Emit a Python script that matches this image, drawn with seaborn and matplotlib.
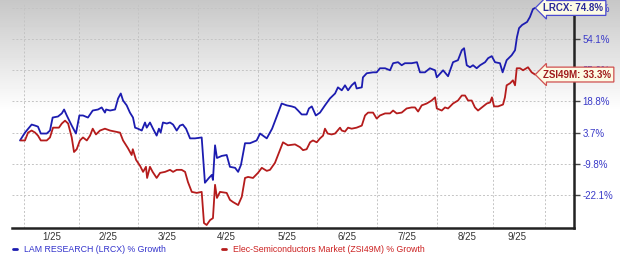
import numpy as np
import pandas as pd
import matplotlib
matplotlib.use("Agg")
import matplotlib.pyplot as plt
import seaborn as sns
from matplotlib.lines import Line2D

# ---------------- data (days since 2024-12-31, % growth) ----------------
lrcx_day = [-2.1, 0.5, 4.0, 5.8, 7.3, 8.8, 11.9, 13.6, 15.0, 17.8, 19.8, 21.0, 22.4, 25.0, 27.2,
            29.0, 30.9, 33.5, 36.0, 38.8, 40.7, 42.4, 43.0, 45.1, 47.7, 49.3, 50.7, 51.9, 53.8,
            55.5, 57.1, 58.2, 59.7, 61.7, 63.4, 64.3, 66.0, 67.6, 69.5, 70.7, 71.6, 72.8, 74.8,
            76.5, 78.1, 80.0, 81.7, 83.2, 84.9, 87.0, 89.6, 93.1, 94.8, 96.9, 98.4, 99.0, 100.1,
            101.1, 103.6, 106.2, 107.9, 110.6, 112.2, 113.7, 115.8, 118.4, 121.9, 123.7, 125.2,
            127.2, 128.9, 130.0, 132.4, 135.0, 137.7, 140.3, 142.0, 143.6, 145.5, 148.1, 149.3,
            150.8, 152.0, 152.9, 155.1, 157.7, 160.3, 163.0, 164.5, 166.5, 168.2, 169.8, 171.7,
            173.4, 174.3, 177.0, 177.6, 179.6, 182.9, 184.8, 186.5, 189.2, 191.8, 193.4, 196.0,
            197.9, 199.6, 203.1, 205.9, 207.5, 210.1, 212.7, 215.4, 216.3, 219.6, 222.2, 224.8,
            227.4, 229.4, 230.6, 232.0, 233.7, 235.3, 237.2, 239.0, 241.6, 243.2, 245.1, 246.8,
            249.4, 250.8, 252.9, 255.5, 257.3, 258.3, 259.4, 261.0, 263.6, 265.1, 266.7, 267.8]
lrcx_pct = [0.3, 3.7, 7.6, 7.1, 6.6, 3.3, 3.3, 4.7, 11.0, 11.5, 13.0, 14.9, 12.0, 7.1, 3.3,
            12.0, 12.0, 11.0, 14.4, 14.9, 15.9, 13.4, 14.9, 14.4, 14.9, 20.4, 23.1, 19.3, 16.9,
            13.4, 11.0, 6.1, 5.6, 4.7, 8.6, 6.1, 8.6, 5.6, 2.4, 5.6, 3.7, 8.6, 8.1,
            8.6, 7.6, 4.7, 7.1, 7.6, 5.6, 1.2, 1.2, 1.6, -17.3, -15.4, -14.2, -16.2, -1.8,
            -7.3, -6.4, -6.0, -11.0, -11.4, -13.0, -10.2, -0.9, -0.9, 0.3, 3.3, 2.4,
            1.2, 3.7, 5.6, 11.5, 17.8, 16.9, 16.4, 15.9, 14.4, 12.5, 12.5, 15.4,
            16.4, 13.9, 12.0, 13.4, 16.9, 20.4, 23.1, 26.4, 24.8, 27.5, 24.8, 27.5,
            29.1, 25.8, 26.4, 31.8, 34.0, 34.5, 34.5, 36.8, 36.8, 35.6, 39.8, 40.4,
            38.6, 39.8, 39.8, 40.4, 34.5, 34.5, 36.8, 35.6, 31.8, 35.6, 32.4, 40.4,
            41.6, 47.5, 48.7, 38.6, 37.4, 38.6, 36.8, 38.6, 40.4, 42.8, 44.0, 40.4,
            39.8, 34.5, 41.6, 44.5, 47.5, 55.4, 61.4, 63.5, 65.5, 68.8, 74.1, 74.8]

zsi_day = [-1.7, 0.5, 2.1, 4.0, 5.8, 7.3, 8.8, 11.9, 13.6, 15.2, 18.3, 19.8, 21.5, 23.1, 25.0,
           26.2, 27.6, 29.3, 30.9, 32.9, 34.6, 36.0, 37.7, 39.8, 42.4, 45.1, 47.7, 50.3, 51.9,
           54.5, 56.4, 57.0, 58.7, 60.8, 62.4, 63.9, 64.5, 66.0, 67.4, 69.5, 71.3, 73.9, 76.5,
           78.1, 80.0, 82.6, 84.4, 85.9, 87.9, 90.5, 93.1, 94.3, 95.7, 97.5, 99.0, 100.1, 101.1,
           102.7, 106.2, 107.9, 109.5, 112.2, 114.1, 115.8, 117.4, 120.0, 122.6, 124.6, 127.2,
           128.9, 131.5, 134.1, 135.7, 138.3, 142.0, 144.6, 146.2, 148.1, 149.9, 151.4, 153.4,
           155.1, 156.7, 157.7, 159.1, 161.2, 163.0, 165.6, 166.5, 168.2, 169.8, 171.7, 174.3,
           177.0, 178.7, 180.3, 182.9, 184.8, 186.5, 189.2, 191.8, 193.4, 195.3, 197.9, 200.5,
           203.1, 204.9, 206.5, 208.4, 211.0, 213.6, 215.4, 216.3, 218.9, 220.6, 222.2, 224.8,
           227.4, 229.4, 231.1, 232.7, 234.6, 236.3, 237.9, 239.9, 242.5, 244.2, 245.2, 246.3,
           248.4, 251.0, 252.0, 252.9, 254.7, 256.2, 257.3, 258.2, 259.9, 261.5, 264.1, 266.0,
           267.8]
zsi_pct = [0.3, 0.3, 3.7, 4.7, 3.7, 2.4, 0.3, 0.3, 1.6, 6.1, 6.1, 8.1, 9.5, 8.1, 1.6,
           -4.7, -3.5, 0.3, 1.6, 0.3, 2.4, 5.6, 2.9, 4.7, 5.6, 4.7, 4.2, 3.7, 0.3,
           -3.1, -6.0, -3.5, -8.1, -10.6, -13.0, -11.0, -15.4, -11.0, -13.0, -15.4, -13.4, -13.0, -12.2,
           -13.0, -12.2, -12.2, -13.0, -17.0, -20.9, -21.3, -20.9, -32.4, -33.1, -31.3, -30.6, -18.1, -23.2,
           -20.9, -21.3, -23.9, -24.7, -25.8, -22.8, -15.4, -15.0, -15.4, -13.4, -11.4, -12.6,
           -12.2, -9.4, -3.9, -0.5, -1.8, -1.4, -2.6, -3.9, -3.5, -0.5, 0.3, -0.5,
           1.2, 2.4, 5.6, 3.3, 2.9, 3.3, 6.1, 4.7, 4.2, 6.1, 5.6, 6.1,
           7.1, 12.0, 13.4, 13.4, 10.5, 12.0, 13.0, 13.0, 14.4, 13.0, 13.4, 15.4,
           15.9, 15.9, 13.9, 16.9, 17.8, 19.3, 21.0, 15.4, 14.4, 15.9, 15.4, 17.8,
           19.3, 22.0, 22.0, 19.3, 19.3, 15.9, 14.4, 15.9, 17.8, 18.3, 21.0, 16.4,
           16.4, 17.3, 21.0, 27.5, 28.6, 30.2, 27.5, 36.8, 36.8, 35.6, 37.4, 34.5,
           33.3]

series_names = ["LAM RESEARCH (LRCX) % Growth", "Elec-Semiconductors Market (ZSI49M) % Growth"]
series_tags = ["LRCX", "ZSI49M"]
y_ticks = [-22.1, -9.8, 3.7, 18.8, 35.6, 54.1, 74.8]
x_labels = ["1/25", "2/25", "3/25", "4/25", "5/25", "6/25", "7/25", "8/25", "9/25"]
x_label_pos = [14.7, 44.0, 74.9, 105.8, 137.8, 169.3, 200.7, 232.2, 258.3]
x_grid_pos = [0, 28.8, 59.7, 91.2, 122.6, 153.5, 185.0, 216.4, 245.8, 273.0]

blue = "#1c1cb0"
red = "#b51c1c"

df = pd.concat([
    pd.DataFrame({"day": lrcx_day, "pct": lrcx_pct, "series": series_names[0]}),
    pd.DataFrame({"day": zsi_day, "pct": zsi_pct, "series": series_names[1]}),
])

# ---------------- figure ----------------
sns.set_style("white")
plt.rcParams["font.family"] = ["Liberation Sans", "DejaVu Sans"]

fig = plt.figure(figsize=(6.2, 2.57), dpi=100)
fig.patch.set_facecolor("white")

# background gradient (gray at top fading to white)
bg = fig.add_axes([0, 0, 1, 1], zorder=-5)
h = 257
rows = np.arange(h)
g = np.clip(0.78 + 0.22 * rows / 110.0, 0, 1)
img = np.repeat(g[:, None], 2, axis=1)
bg.imshow(img, cmap="gray", vmin=0, vmax=1, aspect="auto", extent=[0, 1, 0, 1], origin="upper")
bg.set_axis_off()

ax = fig.add_axes([12 / 620, 1 - 228 / 257, (574 - 12) / 620, (228 - 3) / 257])
ax.set_facecolor("none")

# piecewise y scale: equal spacing between the chart's tick values
anchor_v = np.array([-60.0, -22.1, -9.8, 3.7, 18.8, 35.6, 54.1, 74.8, 120.0])
anchor_i = np.array([-(60 - 22.1) / 11.4, 0, 1, 2, 3, 4, 5, 6, 6 + (120 - 74.8) / 20.7])


def fwd(v):
    return np.interp(np.asarray(v, dtype=float), anchor_v, anchor_i)


def inv(i):
    return np.interp(np.asarray(i, dtype=float), anchor_i, anchor_v)


ax.set_yscale("function", functions=(fwd, inv))

sns.lineplot(data=df, x="day", y="pct", hue="series", palette=[blue, red],
             estimator=None, sort=False, linewidth=1.3, ax=ax, legend=False)

ax.set_xlim(-6.3, 288.2)
ax.set_ylim(-34.2, 78.1)

ax.set_yticks(y_ticks)
ax.set_yticklabels([f"{v:.1f}%" for v in y_ticks])
ax.yaxis.set_minor_locator(matplotlib.ticker.NullLocator())
ax.yaxis.tick_right()
ax.tick_params(axis="y", which="major", length=4, width=1, color="#444444",
               labelcolor="#3a3ac8", labelsize=7, pad=2)

ax.set_xticks(x_label_pos)
ax.set_xticklabels(x_labels)
ax.set_xticks(x_grid_pos, minor=True)
ax.tick_params(axis="x", which="both", length=0, labelcolor="#333333", labelsize=7, pad=3)

ax.grid(False)
ax.grid(which="minor", axis="x", color="#c4c4c4", linestyle=(0, (2, 2)), linewidth=0.7)
ax.grid(which="major", axis="y", color="#c4c4c4", linestyle=(0, (2, 2)), linewidth=0.7)

for s in ["left", "top"]:
    ax.spines[s].set_visible(False)
for s in ["bottom", "right"]:
    ax.spines[s].set_visible(True)
    ax.spines[s].set_color("#222222")
    ax.spines[s].set_linewidth(1.8)

ax.set_xlabel("")
ax.set_ylabel("")

# end-of-line tags
for days, vals, tag, col, tcol in [(lrcx_day, lrcx_pct, series_tags[0], "#4a4ad0", "#2a2a9a"),
                                   (zsi_day, zsi_pct, series_tags[1], "#d05050", "#a01c1c")]:
    ax.annotate(f"{tag}: {vals[-1]:.1f}%", xy=(days[-1], vals[-1]), xytext=(6, 0),
                textcoords="offset points", ha="left", va="center", fontsize=7,
                fontweight="bold", color=tcol, zorder=10, annotation_clip=False,
                bbox=dict(boxstyle="larrow,pad=0.25", fc="#fdfbe4", ec=col, lw=0.9))

# legend
handles = [Line2D([0], [0], color=blue, lw=2), Line2D([0], [0], color=red, lw=2)]
leg = fig.legend(handles, series_names, loc="center left", bbox_to_anchor=(13 / 620, 1 - 249.5 / 257),
                 ncol=2, frameon=False, fontsize=6.3, handlelength=0.45, handletextpad=0.8,
                 columnspacing=6.4, borderpad=0, borderaxespad=0)
for t, c in zip(leg.get_texts(), ["#3333cc", "#cc2222"]):
    t.set_color(c)

fig.savefig("out.png", dpi=100)
